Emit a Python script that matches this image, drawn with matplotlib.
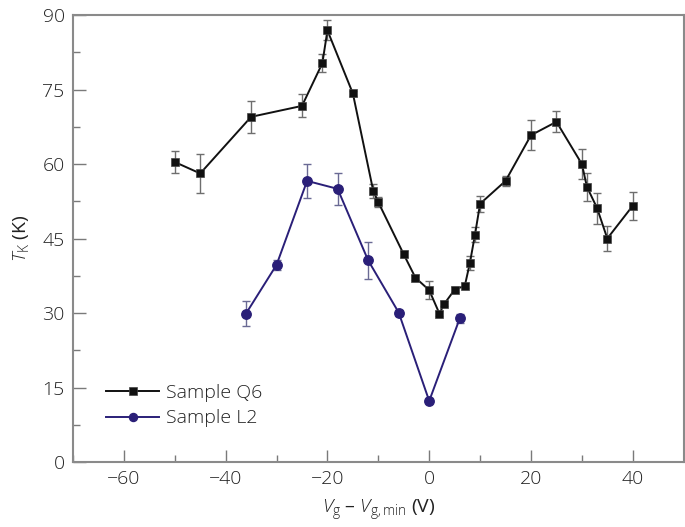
import matplotlib
matplotlib.use("Agg")
import matplotlib.pyplot as plt
from matplotlib.ticker import MultipleLocator

FAM = 'Open Sans'
plt.rcParams['font.family'] = [FAM, 'DejaVu Sans']
plt.rcParams['font.weight'] = 'light'
plt.rcParams['mathtext.fontset'] = 'custom'
plt.rcParams['mathtext.it'] = FAM + ':italic:light'
plt.rcParams['mathtext.rm'] = FAM + ':light'

# Sample Q6
q6_x = [-50, -45, -35, -25, -21, -20, -15, -11, -10, -5, -2.7, 0, 2, 3, 5, 7, 8, 9, 10,
        15, 20, 25, 30, 31, 33, 35, 40]
q6_y = [60.4, 58.1, 69.5, 71.7, 80.3, 86.9, 74.2, 54.6, 52.3, 41.8, 37.1, 34.6, 29.9,
        31.9, 34.7, 35.5, 40.1, 45.8, 52.0, 56.6, 65.8, 68.5, 60.0, 55.4, 51.1, 45.0, 51.6]
q6_err = [2.3, 4.0, 3.2, 2.3, 1.8, 2.0, 0.5, 1.4, 1.0, 0.6, 0.5, 1.8, 0.5, 0.5, 0.5, 0.5,
          1.4, 1.5, 1.6, 1.0, 3.0, 2.1, 3.1, 2.8, 3.1, 2.5, 2.8]

# Sample L2
l2_x = [-36, -30, -24, -18, -12, -6, 0, 6]
l2_y = [29.9, 39.7, 56.6, 55.0, 40.6, 30.1, 12.3, 28.9]
l2_err = [2.6, 1.0, 3.4, 3.2, 3.8, 0.6, 0.5, 1.0]

x_ticks = [-60, -40, -20, 0, 20, 40]
y_ticks = [0, 15, 30, 45, 60, 75, 90]

fig = plt.figure(figsize=(6.85, 5.27), dpi=100)
ax = fig.add_axes([0.1066, 0.1233, 0.8914, 0.8482])

q6_color = '#111111'
l2_color = '#2a1f78'
txt = '#222222'

ax.errorbar(q6_x, q6_y, yerr=q6_err, fmt='none', ecolor='#6e6e6e', elinewidth=1.0,
            capsize=3.2, capthick=1.0, zorder=2)
ax.plot(q6_x, q6_y, '-s', color=q6_color, lw=1.4, ms=6, mfc=q6_color, mec='#444444',
        mew=0.5, label='Sample Q6', zorder=3)

ax.errorbar(l2_x, l2_y, yerr=l2_err, fmt='none', ecolor='#6a6a94', elinewidth=1.0,
            capsize=3.2, capthick=1.0, zorder=2)
ax.plot(l2_x, l2_y, '-o', color=l2_color, lw=1.4, ms=6.8, mfc=l2_color, mec=l2_color,
        label='Sample L2', zorder=3)

ax.set_xlim(-70, 50)
ax.set_ylim(0, 90)
ax.set_xticks(x_ticks)
ax.set_yticks(y_ticks)
ax.xaxis.set_minor_locator(MultipleLocator(10))
ax.yaxis.set_minor_locator(MultipleLocator(7.5))
ax.tick_params(which='both', direction='in', top=False, right=False, color='#7a7a7a',
               labelsize=14, labelcolor=txt, pad=6)
ax.tick_params(which='major', length=9, width=1.0)
ax.tick_params(which='minor', length=5, width=1.0)
ax.set_xticklabels([('\u2212' + str(-t)) if t < 0 else str(t) for t in x_ticks])
for s in ax.spines.values():
    s.set_color('#8a8a8a')
    s.set_linewidth(1.5)

ax.set_xlabel(r'$\mathit{V}_{\mathrm{g}}$' + ' \u2013 ' + r'$\mathit{V}_{\mathrm{g,min}}$ (V)',
              fontsize=14, color=txt, labelpad=7)
ax.set_ylabel(r'$\mathit{T}_{\mathrm{K}}$ (K)', fontsize=14, color=txt, labelpad=8)

leg = ax.legend(loc='lower left', bbox_to_anchor=(0.042, 0.06), frameon=False, fontsize=14,
                handlelength=2.7, handletextpad=0.35, labelspacing=0.4, borderaxespad=0,
                markerscale=0.85)
for t in leg.get_texts():
    t.set_color(txt)

fig.savefig('out.png', dpi=100)
